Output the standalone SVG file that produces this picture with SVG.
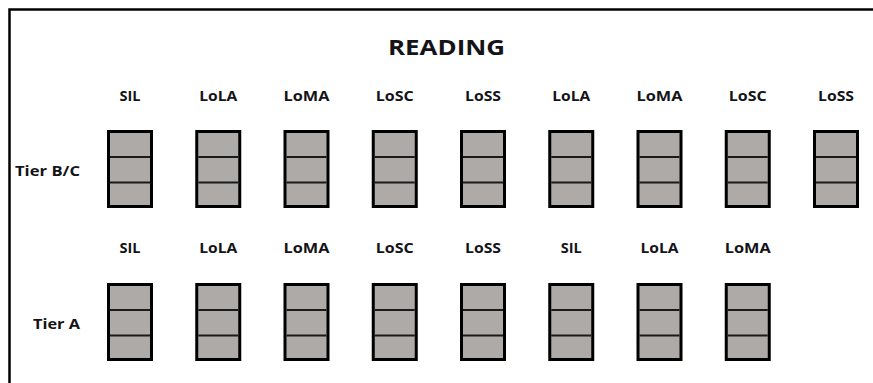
<svg xmlns="http://www.w3.org/2000/svg" width="873" height="383" viewBox="0 0 873 383">
<style>
text{font-family:"Open Sans","Liberation Sans",Arial,sans-serif;font-weight:bold;fill:#141418}
.lbl{font-size:14px;text-anchor:middle}
.tier{font-size:15px}
.title{font-size:21px;text-anchor:middle}
.box{fill:#adaaa8;stroke:#000;stroke-width:3}
.div{stroke:#1a1a1a;stroke-width:2}
</style>
<defs>
<g id="cell">
<rect class="box" x="1.5" y="1.5" width="43" height="75"/>
<line class="div" x1="3" y1="27" x2="43" y2="27"/>
<line class="div" x1="3" y1="52.5" x2="43" y2="52.5"/>
</g>
</defs>
<rect x="9.5" y="9.5" width="900" height="420" fill="#fff" stroke="#000" stroke-width="2.5"/>
<text class="title" x="446.5" y="55" textLength="117" lengthAdjust="spacingAndGlyphs">READING</text>
<text class="tier" x="15" y="176" textLength="65" lengthAdjust="spacingAndGlyphs">Tier B/C</text>
<text class="tier" x="33" y="329" textLength="47" lengthAdjust="spacingAndGlyphs">Tier A</text>
<g id="row-bc">
<g id="bc1"><text class="lbl" x="130" y="101" textLength="21" lengthAdjust="spacingAndGlyphs">SIL</text><use href="#cell" x="107" y="130"/></g>
<g id="bc2"><text class="lbl" x="218.25" y="101" textLength="38" lengthAdjust="spacingAndGlyphs">LoLA</text><use href="#cell" x="195.25" y="130"/></g>
<g id="bc3"><text class="lbl" x="306.5" y="101" textLength="46" lengthAdjust="spacingAndGlyphs">LoMA</text><use href="#cell" x="283.5" y="130"/></g>
<g id="bc4"><text class="lbl" x="394.75" y="101" textLength="38" lengthAdjust="spacingAndGlyphs">LoSC</text><use href="#cell" x="371.75" y="130"/></g>
<g id="bc5"><text class="lbl" x="483" y="101" textLength="36" lengthAdjust="spacingAndGlyphs">LoSS</text><use href="#cell" x="460" y="130"/></g>
<g id="bc6"><text class="lbl" x="571.25" y="101" textLength="38" lengthAdjust="spacingAndGlyphs">LoLA</text><use href="#cell" x="548.25" y="130"/></g>
<g id="bc7"><text class="lbl" x="659.5" y="101" textLength="46" lengthAdjust="spacingAndGlyphs">LoMA</text><use href="#cell" x="636.5" y="130"/></g>
<g id="bc8"><text class="lbl" x="747.75" y="101" textLength="38" lengthAdjust="spacingAndGlyphs">LoSC</text><use href="#cell" x="724.75" y="130"/></g>
<g id="bc9"><text class="lbl" x="836" y="101" textLength="36" lengthAdjust="spacingAndGlyphs">LoSS</text><use href="#cell" x="813" y="130"/></g>
</g>
<g id="row-a">
<g id="a1"><text class="lbl" x="130" y="253" textLength="21" lengthAdjust="spacingAndGlyphs">SIL</text><use href="#cell" x="107" y="283"/></g>
<g id="a2"><text class="lbl" x="218.25" y="253" textLength="38" lengthAdjust="spacingAndGlyphs">LoLA</text><use href="#cell" x="195.25" y="283"/></g>
<g id="a3"><text class="lbl" x="306.5" y="253" textLength="46" lengthAdjust="spacingAndGlyphs">LoMA</text><use href="#cell" x="283.5" y="283"/></g>
<g id="a4"><text class="lbl" x="394.75" y="253" textLength="38" lengthAdjust="spacingAndGlyphs">LoSC</text><use href="#cell" x="371.75" y="283"/></g>
<g id="a5"><text class="lbl" x="483" y="253" textLength="36" lengthAdjust="spacingAndGlyphs">LoSS</text><use href="#cell" x="460" y="283"/></g>
<g id="a6"><text class="lbl" x="571.25" y="253" textLength="21" lengthAdjust="spacingAndGlyphs">SIL</text><use href="#cell" x="548.25" y="283"/></g>
<g id="a7"><text class="lbl" x="659.5" y="253" textLength="38" lengthAdjust="spacingAndGlyphs">LoLA</text><use href="#cell" x="636.5" y="283"/></g>
<g id="a8"><text class="lbl" x="747.75" y="253" textLength="46" lengthAdjust="spacingAndGlyphs">LoMA</text><use href="#cell" x="724.75" y="283"/></g>
</g>
<g id="connectors"/>
</svg>
